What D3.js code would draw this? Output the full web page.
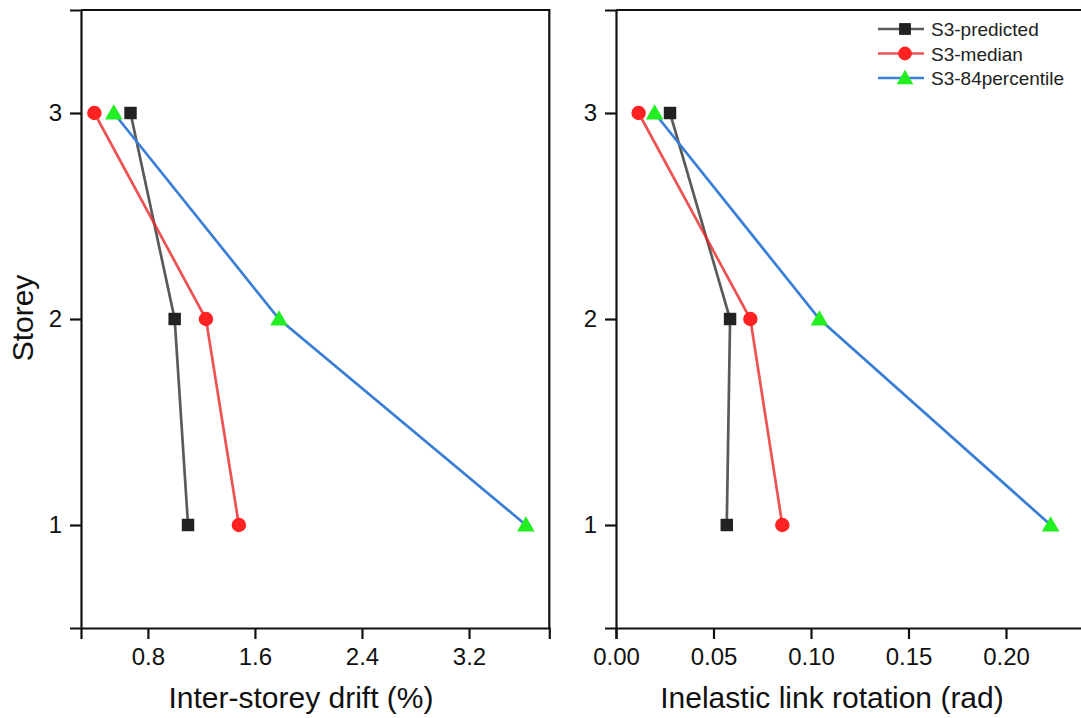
<!DOCTYPE html>
<html>
<head>
<meta charset="utf-8">
<script src="https://cdn.jsdelivr.net/npm/d3@7.9.0/dist/d3.min.js"></script>
<style>
  body { margin: 0; background: #fff; }
  svg { display: block; font-family: "Liberation Sans", Arial, sans-serif; }
</style>
</head>
<body>
<svg id="chart" width="1081" height="718"></svg>
<script>
// storeys (y values)
const storeys = [3, 2, 1];

// inter-storey drift (%) per series
const driftPredicted = [0.67, 1.00, 1.10];
const driftMedian    = [0.40, 1.234, 1.48];
const drift84        = [0.545, 1.78, 3.625];

// inelastic link rotation (rad) per series
const rotPredicted = [0.0277, 0.0585, 0.0568];
const rotMedian    = [0.0116, 0.0689, 0.0853];
const rot84        = [0.0198, 0.1043, 0.2229];

const seriesNames = ['S3-predicted', 'S3-median', 'S3-84percentile'];

// ticks
const yMajor = [1, 2, 3];
const yMinor = [0.5, 1.5, 2.5, 3.5];
const driftMajor = [0.8, 1.6, 2.4, 3.2];
const driftMinor = [0.4, 1.2, 2.0, 2.8, 3.6];
const rotMajor = [0, 0.05, 0.10, 0.15, 0.20];
const rotMinor = [0.025, 0.075, 0.125, 0.175, 0.225];

const styles = [
  { line: 'rgba(35,35,35,0.75)', fill: '#222222', shape: d3.symbolSquare, size: 155 },
  { line: 'rgba(232,40,40,0.8)', fill: '#ff2222', shape: d3.symbolCircle, size: 165 },
  { line: '#3a7fd6', fill: '#22ee22', shape: d3.symbolTriangle, size: 135 }
];

const svg = d3.select('#chart');
const plotTop = 10, plotBottom = 628;

const y = d3.scaleLinear().domain([0.5, 3.5]).range([plotBottom, plotTop]);

function panel(x0, x1, domain, major, minor, fmt, series, title, titleX) {
  const x = d3.scaleLinear().domain(domain).range([x0, x1]);
  const g = svg.append('g');

  // data lines + markers
  series.forEach((vals, si) => {
    const st = styles[si];
    const pts = vals.map((v, i) => [x(v), y(storeys[i])]);
    g.append('path')
      .attr('d', d3.line()(pts))
      .attr('fill', 'none')
      .attr('stroke', st.line)
      .attr('stroke-width', 2.7);
  });
  series.forEach((vals, si) => {
    const st = styles[si];
    g.selectAll(null)
      .data(vals)
      .enter().append('path')
      .attr('d', d3.symbol().type(st.shape).size(st.size))
      .attr('transform', (v, i) => `translate(${x(v)},${y(storeys[i]) + (si === 2 ? 1.5 : 0)})`)
      .attr('fill', st.fill);
  });

  // frame (top + right)
  g.append('path')
    .attr('d', `M${x0},${plotTop}H${x1}V${plotBottom}`)
    .attr('fill', 'none').attr('stroke', '#111').attr('stroke-width', 2.2);

  // x axis
  const xa = g.append('g').attr('transform', `translate(0,${plotBottom})`);
  xa.call(d3.axisBottom(x).tickValues(minor).tickSize(5).tickFormat(''));
  xa.call(d3.axisBottom(x).tickValues(major).tickSize(11).tickPadding(9).tickFormat(fmt));
  xa.selectAll('path.domain').attr('stroke-width', 2.2).attr('stroke', '#111');
  xa.selectAll('.tick line').attr('stroke-width', 2.2).attr('stroke', '#111');
  xa.selectAll('text').attr('font-size', 24).attr('fill', '#111');

  // y axis
  const ya = g.append('g').attr('transform', `translate(${x0},0)`);
  ya.call(d3.axisLeft(y).tickValues(yMinor).tickSize(5).tickFormat(''));
  ya.call(d3.axisLeft(y).tickValues(yMajor).tickSize(11).tickPadding(8).tickFormat(d3.format('d')));
  ya.selectAll('path.domain').attr('stroke-width', 2.2).attr('stroke', '#111');
  ya.selectAll('.tick line').attr('stroke-width', 2.2).attr('stroke', '#111');
  ya.selectAll('text').attr('font-size', 24).attr('fill', '#111');

  g.append('text')
    .attr('x', titleX).attr('y', 708)
    .attr('text-anchor', 'middle')
    .attr('font-size', 30).attr('fill', '#111')
    .text(title);
}

panel(81, 549.3, [0.3, 3.8], driftMajor, driftMinor, d3.format('.1f'),
  [driftPredicted, driftMedian, drift84], 'Inter-storey drift (%)', 301);
panel(616, 1084, [0, 0.24], rotMajor, rotMinor, d3.format('.2f'),
  [rotPredicted, rotMedian, rot84], 'Inelastic link rotation (rad)', 832);

// y title
svg.append('text')
  .attr('transform', 'translate(33,318) rotate(-90)')
  .attr('text-anchor', 'middle')
  .attr('font-size', 30).attr('fill', '#111')
  .text('Storey');

// legend
const legend = svg.append('g').attr('transform', 'translate(880,29)');
seriesNames.forEach((name, i) => {
  const st = styles[i];
  const row = legend.append('g').attr('transform', `translate(0,${i * 24.5})`);
  row.append('line').attr('x1', -2).attr('x2', 44)
    .attr('stroke', st.line).attr('stroke-width', 2.7);
  row.append('path')
    .attr('d', d3.symbol().type(st.shape).size(st.size * 0.9))
    .attr('transform', `translate(25,${i === 2 ? 1.5 : 0})`)
    .attr('fill', st.fill);
  row.append('text')
    .attr('x', 51).attr('y', 7)
    .attr('font-size', 19).attr('fill', '#222')
    .text(name);
});
</script>
</body>
</html>
